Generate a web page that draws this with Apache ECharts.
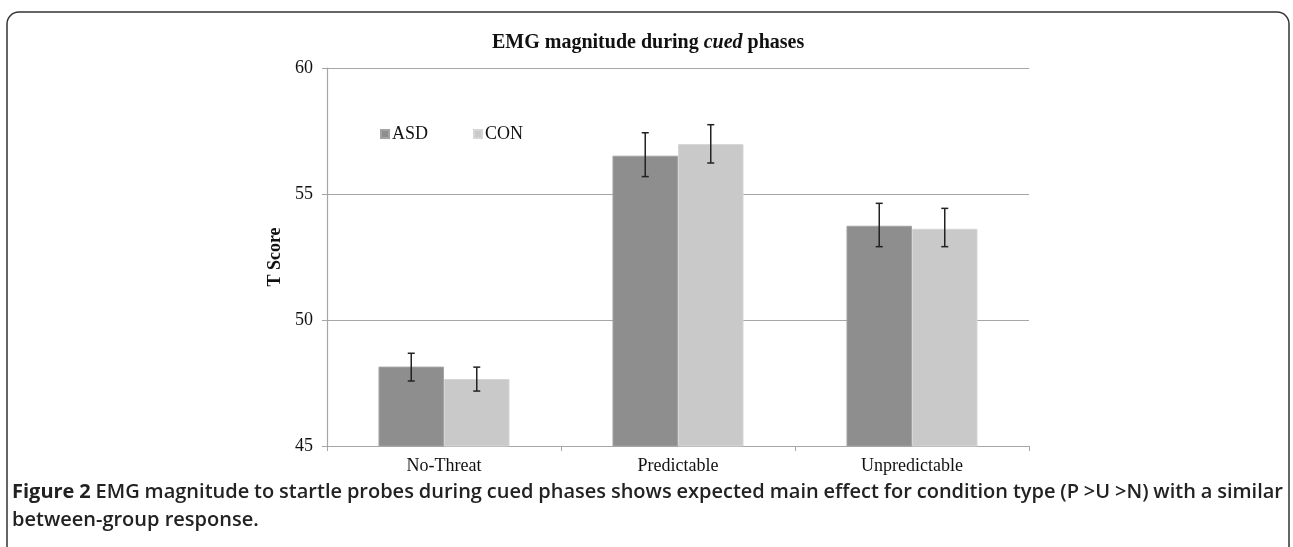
<!DOCTYPE html>
<html>
<head>
<meta charset="utf-8">
<script src="https://cdn.jsdelivr.net/npm/echarts@6/dist/echarts.min.js"></script>
<style>
html,body{margin:0;padding:0;background:#fff;}
#c{width:1293px;height:547px;}
</style>
</head>
<body>
<div id="c"></div>
<script>
var categories = ['No-Threat', 'Predictable', 'Unpredictable'];
var asdValues = [48.15, 56.52, 53.74];
var conValues = [47.66, 56.98, 53.62];
var asdErrLow = [47.58, 55.69, 52.91];
var asdErrHigh = [48.68, 57.43, 54.63];
var conErrLow = [47.18, 56.23, 52.91];
var conErrHigh = [48.13, 57.75, 54.43];
var yTicks = [45, 50, 55, 60];
var captionBold = 'Figure 2';
var captionLine1 = 'EMG magnitude to startle probes during cued phases shows expected main effect for condition type (P >U >N) with a similar';
var captionLine2 = 'between-group response.';

var GROUP_FRAC = 0.56;

function errRender(sign) {
  return function (params, api) {
    var x = api.value(0);
    var lo = api.coord([x, api.value(1)]);
    var hi = api.coord([x, api.value(2)]);
    var band = api.size([1, 0])[0];
    var cx = lo[0] + sign * band * GROUP_FRAC / 4;
    var hw = 3.5;
    var st = { stroke: '#222', lineWidth: 1.5 };
    return {
      type: 'group',
      children: [
        { type: 'line', shape: { x1: cx, y1: hi[1], x2: cx, y2: lo[1] }, style: st },
        { type: 'line', shape: { x1: cx - hw, y1: hi[1], x2: cx + hw, y2: hi[1] }, style: st },
        { type: 'line', shape: { x1: cx - hw, y1: lo[1], x2: cx + hw, y2: lo[1] }, style: st }
      ]
    };
  };
}

// justified caption layout
var capFamily = '"Open Sans", sans-serif';
var capSize = 20;
var ctx = document.createElement('canvas').getContext('2d');
function measure(t, w) { ctx.font = w + ' ' + capSize + 'px "Open Sans"'; return ctx.measureText(t).width; }
var words = [];
captionBold.split(' ').forEach(function (w) { words.push({ t: w, w: 'bold' }); });
captionLine1.split(' ').forEach(function (w) { words.push({ t: w, w: '600' }); });
var capLeft = 12, capRight = 1283;
var totalW = 0;
words.forEach(function (o) { o.width = measure(o.t, o.w); totalW += o.width; });
var gap = (capRight - capLeft - totalW) / (words.length - 1);
var captionEls = [];
var cx0 = capLeft;
words.forEach(function (o) {
  captionEls.push({
    type: 'text', x: cx0, y: 492,
    style: { text: o.t, fontFamily: capFamily, fontSize: capSize, fontWeight: o.w === 'bold' ? 'bold' : 600, fill: '#222', textVerticalAlign: 'middle', textAlign: 'left' }
  });
  cx0 += o.width + gap;
});
captionEls.push({
  type: 'text', x: capLeft, y: 520,
  style: { text: captionLine2, fontFamily: capFamily, fontSize: capSize, fontWeight: 600, fill: '#222', textVerticalAlign: 'middle', textAlign: 'left' }
});

var serif = '"Liberation Serif", "Times New Roman", serif';
var chart = echarts.init(document.getElementById('c'));
chart.setOption({
  animation: false,
  backgroundColor: '#fff',
  title: {
    text: '{b|EMG magnitude during }{i|cued}{b| phases}',
    left: 487, top: 28,
    textStyle: {
      rich: {
        b: { fontFamily: serif, fontWeight: 'bold', fontSize: 20, color: '#111' },
        i: { fontFamily: serif, fontWeight: 'bold', fontStyle: 'italic', fontSize: 20, color: '#111' }
      }
    }
  },
  legend: {
    left: 375, top: 120,
    itemWidth: 8, itemHeight: 8, itemGap: 45,
    icon: 'rect',
    textStyle: { fontFamily: serif, fontSize: 18, color: '#111', padding: [0, 0, 0, -2] },
    data: ['ASD', 'CON']
  },
  grid: { left: 327, right: 264, top: 68, bottom: 101, containLabel: false },
  xAxis: {
    type: 'category',
    data: categories,
    axisLine: { lineStyle: { color: '#a6a6a6', width: 1.2 } },
    axisTick: { show: true, length: 5, lineStyle: { color: '#a6a6a6' } },
    axisLabel: { fontFamily: serif, fontSize: 18, color: '#111', margin: 11 }
  },
  yAxis: {
    type: 'value',
    min: yTicks[0], max: yTicks[yTicks.length - 1], interval: 5,
    name: 'T Score',
    nameLocation: 'middle',
    nameGap: 31,
    nameRotate: 90,
    nameTextStyle: { fontFamily: serif, fontWeight: 'bold', fontSize: 18, color: '#111' },
    axisLine: { show: true, lineStyle: { color: '#a6a6a6', width: 1.2 } },
    axisTick: { show: true, length: 5, lineStyle: { color: '#a6a6a6' } },
    axisLabel: { fontFamily: serif, fontSize: 18, color: '#111', margin: 14 },
    splitLine: { lineStyle: { color: '#a6a6a6', width: 1.2 } }
  },
  series: [
    {
      name: 'ASD', type: 'bar', data: asdValues,
      barGap: '0%', barCategoryGap: '44%',
      itemStyle: { color: '#8e8e8e', borderColor: '#a3a3a3', borderWidth: 1 }
    },
    {
      name: 'CON', type: 'bar', data: conValues,
      barGap: '0%', barCategoryGap: '44%',
      itemStyle: { color: '#c9c9c9', borderColor: '#d6d6d6', borderWidth: 1 }
    },
    {
      type: 'custom', name: 'ASD err', renderItem: errRender(-1),
      encode: { x: 0, y: [1, 2] }, z: 5,
      data: categories.map(function (c, i) { return [i, asdErrLow[i], asdErrHigh[i]]; })
    },
    {
      type: 'custom', name: 'CON err', renderItem: errRender(1),
      encode: { x: 0, y: [1, 2] }, z: 5,
      data: categories.map(function (c, i) { return [i, conErrLow[i], conErrHigh[i]]; })
    }
  ],
  graphic: [
    {
      type: 'rect', silent: true, z: 10,
      shape: { x: 7, y: 12, width: 1282, height: 620, r: 12 },
      style: { fill: 'none', stroke: '#333', lineWidth: 1.5 }
    }
  ].concat(captionEls)
});
</script>
</body>
</html>
